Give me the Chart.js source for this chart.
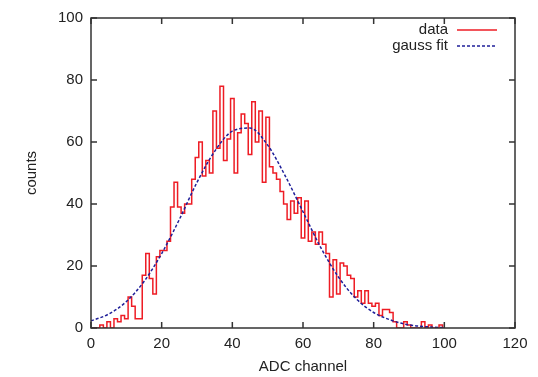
<!DOCTYPE html>
<html>
<head>
<meta charset="utf-8">
<script src="https://cdn.jsdelivr.net/npm/chart.js@4/dist/chart.umd.min.js"></script>
<style>
  html, body { margin: 0; padding: 0; background: #fff; }
</style>
</head>
<body>
<canvas id="chartAdc" width="538" height="377"></canvas>
<script>
// histogram: counts per ADC channel
const channels = [
  0, 1, 2, 3, 4, 5, 6, 7, 8, 9, 10, 11, 12, 13, 14, 15, 16, 17, 18, 19,
  20, 21, 22, 23, 24, 25, 26, 27, 28, 29, 30, 31, 32, 33, 34, 35, 36, 37, 38, 39,
  40, 41, 42, 43, 44, 45, 46, 47, 48, 49, 50, 51, 52, 53, 54, 55, 56, 57, 58, 59,
  60, 61, 62, 63, 64, 65, 66, 67, 68, 69, 70, 71, 72, 73, 74, 75, 76, 77, 78, 79,
  80, 81, 82, 83, 84, 85, 86, 87, 88, 89, 90, 91, 92, 93, 94, 95, 96, 97, 98, 99, 100
];
const counts = [
  0, 0, 0, 1, 0, 2, 0, 3, 2, 4, 3, 10, 7, 3, 3, 17, 24, 16, 11, 23,
  25, 25, 28, 39, 47, 39, 37, 40, 40, 48, 55, 60, 49, 54, 50, 70, 58, 78, 54, 61,
  74, 50, 63, 69, 66, 56, 73, 60, 70, 47, 68, 52, 50, 48, 44, 40, 35, 41, 37, 42,
  29, 41, 28, 31, 27, 31, 27, 24, 10, 22, 11, 21, 20, 17, 16, 10, 12, 8, 12, 8,
  7, 8, 4, 6, 6, 5, 2, 0, 0, 2, 1, 0, 0, 0, 2, 0, 1, 0, 0, 1, 0
];

const fitX = [0, 5, 10, 15, 20, 25, 30, 35, 40, 45, 50, 55, 60, 65, 70, 75, 80, 85, 90, 95, 100];
const fitY = [2.3, 4.5, 8.5, 15, 24, 35, 47, 57, 63.5, 64.5, 59, 49, 37.5, 26, 16.5, 9.5, 5, 2.5, 1, 0.4, 0.1];

const xTicks = [0, 20, 40, 60, 80, 100, 120];
const yTicks = [0, 20, 40, 60, 80, 100];

const fontFamily = "'Liberation Sans', Arial, sans-serif";
const textColor = '#222';

const frame = {
  id: 'frame',
  afterDraw(chart) {
    const {ctx, chartArea: a, scales: {x, y}} = chart;
    ctx.save();
    ctx.strokeStyle = '#333';
    ctx.lineWidth = 1.5;
    ctx.strokeRect(a.left, a.top, a.right - a.left, a.bottom - a.top);
    ctx.beginPath();
    xTicks.forEach(v => {
      const px = x.getPixelForValue(v);
      ctx.moveTo(px, a.bottom); ctx.lineTo(px, a.bottom - 6);
      ctx.moveTo(px, a.top); ctx.lineTo(px, a.top + 6);
    });
    yTicks.forEach(v => {
      const py = y.getPixelForValue(v);
      ctx.moveTo(a.left, py); ctx.lineTo(a.left + 6, py);
      ctx.moveTo(a.right, py); ctx.lineTo(a.right - 6, py);
    });
    ctx.stroke();

    // key, top right
    ctx.font = '15px ' + fontFamily;
    ctx.textAlign = 'right';
    ctx.textBaseline = 'middle';
    chart.data.datasets.forEach((ds, i) => {
      const ly = a.top + 12 + i * 16;
      ctx.fillStyle = textColor;
      ctx.fillText(ds.label, a.right - 67, ly);
      ctx.strokeStyle = ds.borderColor;
      ctx.lineWidth = ds.borderWidth;
      ctx.setLineDash(ds.borderDash || []);
      ctx.beginPath();
      ctx.moveTo(a.right - 58, ly);
      ctx.lineTo(a.right - 18, ly);
      ctx.stroke();
    });
    ctx.restore();
  }
};

const ctx = document.getElementById('chartAdc');

new Chart(ctx, {
  type: 'line',
  data: {
    datasets: [{
      label: 'data',
      data: channels.map((c, i) => ({x: c, y: counts[i]})),
      borderColor: '#ee1c24',
      borderWidth: 1.5,
      stepped: 'middle',
      pointRadius: 0,
      fill: false,
      order: 1
    }, {
      label: 'gauss fit',
      data: fitX.map((v, i) => ({x: v, y: fitY[i]})),
      borderColor: '#1f1f99',
      borderWidth: 1.5,
      borderDash: [3, 2],
      cubicInterpolationMode: 'monotone',
      pointRadius: 0,
      fill: false,
      order: 0
    }]
  },
  options: {
    responsive: false,
    animation: false,
    layout: { padding: { left: 0, right: 23, top: 18, bottom: 0 } },
    plugins: {
      legend: { display: false },
      tooltip: { enabled: false }
    },
    scales: {
      x: {
        type: 'linear',
        min: 0,
        max: 120,
        afterBuildTicks: s => { s.ticks = xTicks.map(v => ({value: v})); },
        afterFit: s => { s.height = 49; },
        grid: { display: false, drawTicks: false },
        border: { display: false },
        ticks: { padding: 7, color: textColor, font: { family: fontFamily, size: 15 }, maxRotation: 0 },
        title: { display: true, text: 'ADC channel', color: textColor,
                 font: { family: fontFamily, size: 15 }, padding: { top: 0, bottom: 1 } }
      },
      y: {
        min: 0,
        max: 100,
        afterBuildTicks: s => { s.ticks = yTicks.map(v => ({value: v})); },
        afterFit: s => { s.width = 91; },
        grid: { display: false, drawTicks: false },
        border: { display: false },
        ticks: { padding: 8, color: textColor, font: { family: fontFamily, size: 15 } },
        title: { display: true, text: 'counts', color: textColor,
                 font: { family: fontFamily, size: 15 }, padding: { top: 23, bottom: 0 } }
      }
    }
  },
  plugins: [frame]
});
</script>
</body>
</html>
